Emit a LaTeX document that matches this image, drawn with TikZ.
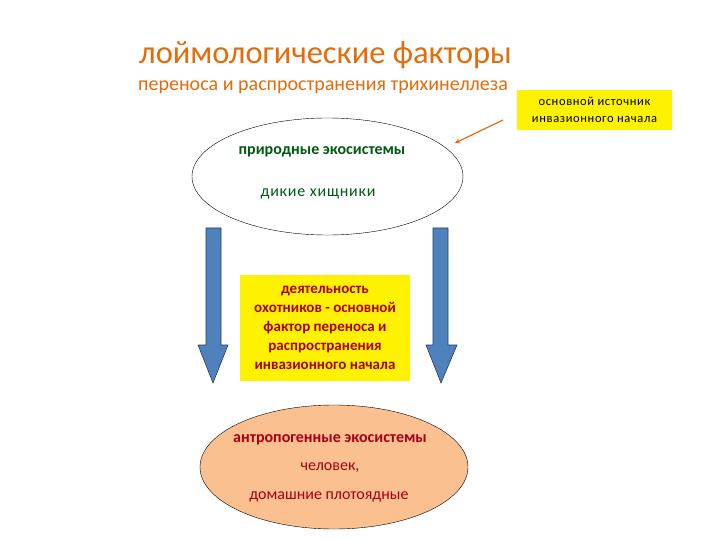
\documentclass[tikz,border=0pt]{standalone}
\usepackage{fontspec}
\setmainfont{Carlito}
\newfontfamily\widefont[LetterSpace=5]{Carlito}
\usetikzlibrary{shapes.geometric}
\definecolor{ttlorange}{RGB}{228,108,10}
\definecolor{ecogreen}{RGB}{0,90,20}
\definecolor{ecored}{RGB}{170,0,20}
\definecolor{peach}{RGB}{250,192,144}
\definecolor{arrblue}{RGB}{79,129,189}
\definecolor{arrdark}{RGB}{40,60,100}
\tikzset{eco/.style={draw,shape=ellipse,inner sep=0pt,thin},
         txt/.style={draw=none,inner sep=0pt,align=center},
         bluearr/.style={fill=arrblue,draw=arrdark,line width=0.6pt}}

\begin{document}
\begin{tikzpicture}[x=1pt,y=-1pt]
\useasboundingbox (0,0) rectangle (720,540);

% headline
\node[txt,anchor=west,text=ttlorange,font=\fontsize{32.5}{34}\selectfont] (head) at (139,55) {лоймологические факторы};
\node[txt,anchor=west,text=ttlorange,font=\fontsize{20}{22}\selectfont] (sub) at (138,87) {переноса и распространения трихинеллеза};

% source box
\node[txt,fill=yellow,minimum width=155pt,minimum height=40pt,font=\widefont\fontsize{12.5}{17}\selectfont] (src) at (594.5,110) {основной источник\\инвазионного начала};

% ecosystems
\node[eco,fill=white,minimum width=271pt,minimum height=117pt] (wild) at (327.5,176.5) {};
\node[txt,text=ecogreen,font=\fontsize{16}{18}\selectfont\bfseries] (wildA) at (322,152) {природные экосистемы};
\node[txt,text=ecogreen,font=\widefont\fontsize{16}{18}\selectfont] (wildB) at (318,194) {дикие хищники};

\node[eco,fill=peach,minimum width=268pt,minimum height=124pt] (home) at (334,467) {};
\node[txt,text=ecored,font=\fontsize{16}{18}\selectfont\bfseries] (homeA) at (330,440) {антропогенные экосистемы};
\node[txt,text=ecored,font=\fontsize{16}{18}\selectfont] (homeB) at (330,468) {человек,};
\node[txt,text=ecored,font=\fontsize{16}{18}\selectfont] (homeC) at (329,497) {домашние плотоядные};

% hunters box
\node[txt,fill=yellow,minimum width=170pt,minimum height=106pt,text=ecored,font=\fontsize{15}{19}\selectfont\bfseries] (hunt) at (325,328) {деятельность\\охотников - основной\\фактор переноса и\\распространения\\инвазионного начала};

% block arrows
\draw[bluearr] (206,228) -- (221,228) -- (221,345) -- (228,345) -- (213,383) -- (198,345) -- (206,345) -- cycle;
\draw[bluearr] (433,228) -- (448,228) -- (448,345) -- (457,345) -- (441,383) -- (426,345) -- (433,345) -- cycle;

% pointer
\coordinate (tip) at (455,143);
\draw[ttlorange,line width=1.2pt,-stealth] (503,120) -- (tip);

\end{tikzpicture}
\end{document}
